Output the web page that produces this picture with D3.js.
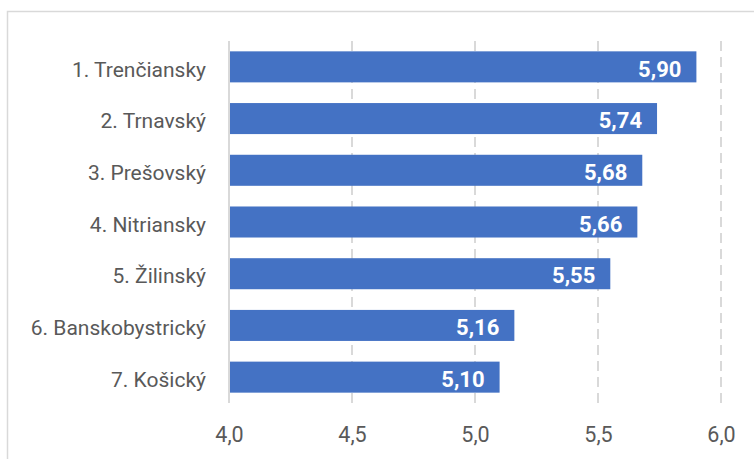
<!DOCTYPE html>
<html><head><meta charset="utf-8">
<script src="https://cdn.jsdelivr.net/npm/d3@7"></script>
<style>body{margin:0;background:#fff}svg{display:block}</style>
</head><body>
<script>
const categories = ["1. Trenčiansky","2. Trnavský","3. Prešovský","4. Nitriansky","5. Žilinský","6. Banskobystrický","7. Košický"];
const values = [5.90,5.74,5.68,5.66,5.55,5.16,5.10];
const ticks = [4.0,4.5,5.0,5.5,6.0];

const W=754,H=459;
const FONT="Roboto, 'Open Sans', sans-serif";
const svg=d3.select("body").append("svg").attr("width",W).attr("height",H);
svg.append("rect").attr("x",7.5).attr("y",11.5).attr("width",800).attr("height",500)
  .attr("fill","#fff").attr("stroke","#d9d9d9").attr("stroke-width",1.5);

const x=d3.scaleLinear().domain([4,6]).range([229,721]);
const y=d3.scaleBand().domain(categories).range([41,403]).paddingInner(0.4).paddingOuter(0.2);
const fmt=d=>d.toFixed(1).replace(".",",");
const fmt2=d=>d.toFixed(2).replace(".",",");

// gridlines
svg.append("g").selectAll("line").data(ticks.slice(1)).join("line")
  .attr("x1",d=>x(d)).attr("x2",d=>x(d)).attr("y1",41).attr("y2",403)
  .attr("stroke","#d9d9d9").attr("stroke-width",2).attr("stroke-dasharray","10,6");

// bars
svg.append("g").selectAll("rect").data(values).join("rect")
  .attr("x",x(4)+1).attr("y",(d,i)=>y(categories[i]))
  .attr("width",d=>x(d)-x(4)-1).attr("height",y.bandwidth()).attr("fill","#4472c4");

// left axis line
svg.append("line").attr("x1",x(4)).attr("x2",x(4)).attr("y1",41).attr("y2",403)
  .attr("stroke","#d9d9d9").attr("stroke-width",2);

// x axis labels
const xa=d3.axisBottom(x).tickValues(ticks).tickFormat(fmt).tickSize(0).tickPadding(0);
const gx=svg.append("g").attr("transform","translate(0,442)").call(xa);
gx.select(".domain").remove();
gx.selectAll("text").attr("fill","#595959").style("font-family",FONT)
  .style("font-size","21.5px").attr("dy","0").attr("y",0);

// y axis labels
const ya=d3.axisLeft(y).tickSize(0).tickPadding(0);
const gy=svg.append("g").attr("transform","translate(206,0)").call(ya);
gy.select(".domain").remove();
gy.selectAll("text").attr("fill","#595959").style("font-family",FONT)
  .style("font-size","21px").attr("dy","0.46em");

// value labels
svg.append("g").selectAll("text").data(values).join("text")
  .attr("x",d=>x(d)-15).attr("y",(d,i)=>y(categories[i])+y.bandwidth()/2)
  .attr("dy","0.44em").attr("text-anchor","end").attr("fill","#fff")
  .style("font-family",FONT).style("font-weight","bold").style("font-size","22px")
  .text(fmt2);
</script>
</body></html>
